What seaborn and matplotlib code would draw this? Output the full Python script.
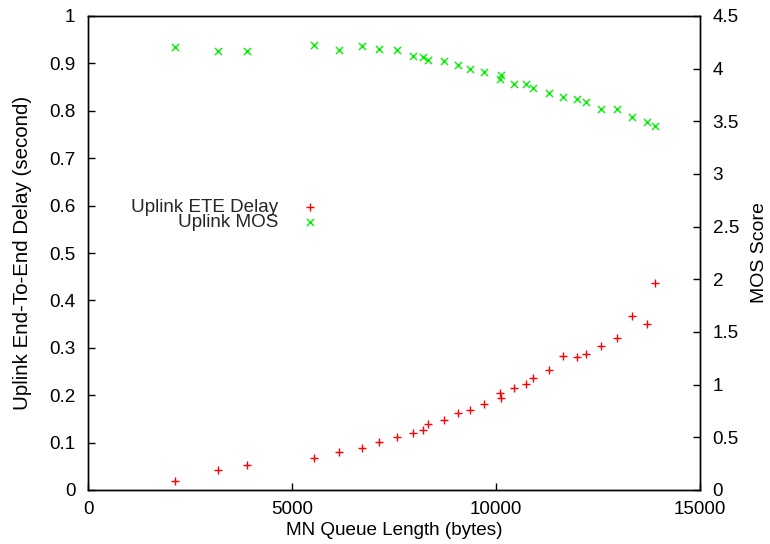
import matplotlib
matplotlib.use("Agg")
import matplotlib.pyplot as plt
import seaborn as sns
import pandas as pd

# MN queue length (bytes) for each simulation run
queue_len = [2123, 3194, 3892, 5549, 6145, 6704, 7142, 7579, 7961, 8203,
             8333, 8715, 9060, 9367, 9702, 10102, 10130, 10447, 10736, 10913,
             11294, 11639, 11974, 12216, 12579, 12961, 13333, 13706, 13892]

# Uplink end-to-end delay (seconds)
ete_delay = [0.019, 0.043, 0.053, 0.068, 0.080, 0.089, 0.102, 0.112, 0.121, 0.127,
             0.140, 0.147, 0.162, 0.168, 0.182, 0.204, 0.194, 0.216, 0.224, 0.236,
             0.253, 0.283, 0.281, 0.286, 0.303, 0.320, 0.368, 0.350, 0.436]

# Uplink MOS score
mos = [4.207, 4.166, 4.170, 4.223, 4.176, 4.214, 4.186, 4.173, 4.116, 4.113,
       4.085, 4.075, 4.031, 3.997, 3.968, 3.899, 3.940, 3.858, 3.855, 3.817,
       3.767, 3.729, 3.710, 3.685, 3.616, 3.613, 3.540, 3.493, 3.458]

x_ticks = [0, 5000, 10000, 15000]
y_ticks = [0, 0.1, 0.2, 0.3, 0.4, 0.5, 0.6, 0.7, 0.8, 0.9, 1]
y2_ticks = [0, 0.5, 1, 1.5, 2, 2.5, 3, 3.5, 4, 4.5]

df = pd.DataFrame({"queue": queue_len, "delay": ete_delay, "mos": mos})

FS = 13.6

sns.set_theme(style="ticks")
plt.rcParams["font.family"] = ["Liberation Sans", "DejaVu Sans"]
plt.rcParams["font.size"] = FS

fig = plt.figure(figsize=(7.7, 5.44), dpi=100)
ax = fig.add_axes([88 / 770, 1 - 490 / 544, 612 / 770, 474 / 544])
ax2 = ax.twinx()

sns.scatterplot(data=df, x="queue", y="delay", ax=ax, marker="+", color="#ff0000",
                s=40, linewidth=1.0, label="Uplink ETE Delay", legend=False)
sns.scatterplot(data=df, x="queue", y="mos", ax=ax2, marker="x", color="#00f000",
                s=26, linewidth=1.0, label="Uplink MOS", legend=False)

ax.set_xlim(0, 15000)
ax.set_ylim(0, 1)
ax2.set_ylim(0, 4.5)
ax.set_xticks(x_ticks)
ax.set_xticklabels([str(t) for t in x_ticks])
ax.set_yticks(y_ticks)
ax.set_yticklabels(["0", "0.1", "0.2", "0.3", "0.4", "0.5", "0.6", "0.7", "0.8", "0.9", "1"])
ax2.set_yticks(y2_ticks)
ax2.set_yticklabels(["0", "0.5", "1", "1.5", "2", "2.5", "3", "3.5", "4", "4.5"])

for a in (ax, ax2):
    for sp in a.spines.values():
        sp.set_color("black")
        sp.set_linewidth(1.0)
    a.grid(False)

ax.tick_params(axis="x", direction="in", length=5, width=1, pad=8,
               labelsize=FS, colors="black", top=False)
ax.tick_params(axis="y", direction="in", length=5, width=1, pad=9,
               labelsize=FS, colors="black", right=False)
ax2.tick_params(axis="y", direction="in", length=5, width=1, pad=9,
                labelsize=FS, colors="black", left=False)

ax.set_xlabel("MN Queue Length (bytes)", fontsize=FS, color="black")
ax.set_ylabel("Uplink End-To-End Delay (second)", fontsize=14.8, color="black")
ax2.set_ylabel("MOS Score", fontsize=14.0, color="black")
ax.xaxis.set_label_coords(0.5, -0.068)
ax.yaxis.set_label_coords(-0.091, 0.5)
ax2.yaxis.set_label_coords(1.083, 0.5)

# Key: text on the left, marker sample on the right, one entry per series
h1, l1 = ax.get_legend_handles_labels()
h2, l2 = ax2.get_legend_handles_labels()
key_opts = dict(loc="center right", frameon=False, markerfirst=False,
                handlelength=1.9, handletextpad=0.75, borderpad=0,
                borderaxespad=0, fontsize=FS, bbox_transform=fig.transFigure)
leg1 = ax2.legend(h1, l1, bbox_to_anchor=(328 / 770, 1 - 207 / 544), **key_opts)
ax2.add_artist(leg1)
ax2.legend(h2, l2, bbox_to_anchor=(328 / 770, 1 - 222 / 544), **key_opts)

fig.savefig("out.png", dpi=100)
